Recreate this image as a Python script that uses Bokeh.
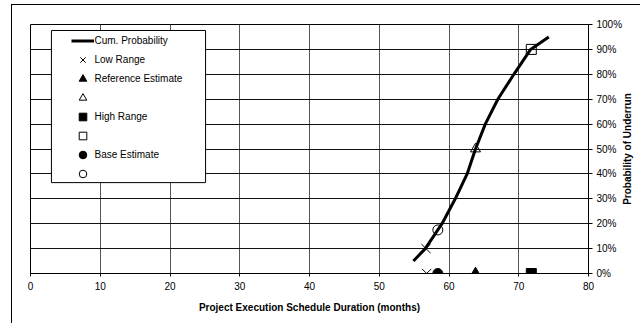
import math
from bokeh.plotting import figure
from bokeh.models import (Range1d, Legend, LegendItem, NumeralTickFormatter,
                          FixedTicker, BoxAnnotation, Label)
from bokeh.core.properties import value
from bokeh.embed import file_html
from bokeh.resources import INLINE

# ---- data ----
curve_x = [54.9, 56.6, 59.0, 60.9, 62.6, 63.8, 65.2, 67.0, 69.3, 71.7, 74.3]
curve_y = [0.05, 0.10, 0.20, 0.30, 0.40, 0.50, 0.60, 0.70, 0.80, 0.90, 0.95]

low_x = [56.8, 56.7]
low_y = [0.0, 0.10]

ref_x = [63.8]
ref_y = [0.0]
ref_open_x = [63.8]
ref_open_y = [0.50]

high_x = [71.8]
high_y = [0.0]
high_open_x = [71.8]
high_open_y = [0.90]

base_x = [58.4]
base_y = [0.0]
base_open_x = [58.4]
base_open_y = [0.175]

x_ticks = [0, 10, 20, 30, 40, 50, 60, 70, 80]
y_ticks = [0.0, 0.1, 0.2, 0.3, 0.4, 0.5, 0.6, 0.7, 0.8, 0.9, 1.0]

x_title = "Project Execution Schedule Duration (months)"
y_title = "Probability of Underrun"

FONT = "Liberation Sans"

p = figure(width=629, height=319, output_backend="svg", toolbar_location=None,
           x_range=Range1d(0, 80), y_range=Range1d(0, 1),
           y_axis_location="right",
           min_border_left=18, min_border_right=53,
           min_border_top=19, min_border_bottom=51)
p.styles = {"border-left": "1px solid #000000", "border-top": "1px solid #000000",
            "margin-top": "4px", "margin-left": "11px"}

p.background_fill_color = "white"
p.border_fill_color = "white"
p.outline_line_color = "black"
p.outline_line_width = 1

# grids
p.xgrid.ticker = FixedTicker(ticks=x_ticks)
p.ygrid.ticker = FixedTicker(ticks=y_ticks)
p.xgrid.grid_line_color = "#555555"
p.ygrid.grid_line_color = "#111111"

# x axis
xa = p.xaxis[0]
xa.ticker = FixedTicker(ticks=x_ticks)
xa.axis_label = x_title
xa.axis_label_text_font = FONT
xa.axis_label_text_font_style = "bold"
xa.axis_label_text_font_size = "10px"
xa.axis_label_text_color = "black"
xa.axis_label_standoff = 9
xa.major_label_text_font = FONT
xa.major_label_text_font_size = "10px"
xa.major_label_text_color = "black"
xa.major_label_standoff = 5
xa.major_tick_out = 3
xa.major_tick_in = 0
xa.minor_tick_line_color = None

# right y axis
ya = p.yaxis[0]
ya.ticker = FixedTicker(ticks=y_ticks)
ya.formatter = NumeralTickFormatter(format="0%")
ya.major_label_text_font = FONT
ya.major_label_text_font_size = "10px"
ya.major_label_text_color = "black"
ya.major_label_standoff = 4
ya.major_tick_out = 4
ya.major_tick_in = 0
ya.minor_tick_line_color = None

# right axis title, reading bottom-to-top, centred on the frame
p.add_layout(Label(x=80, y=0.5, x_offset=39, text=y_title, angle=math.pi / 2,
                   text_align="center", text_baseline="middle",
                   text_font=FONT, text_font_style="bold", text_font_size="10px",
                   text_color="black"), "right")

# legend background box
p.add_layout(BoxAnnotation(left=3.0, right=25.1, top=0.976, bottom=0.365,
                           fill_color="white", fill_alpha=1.0,
                           line_color="black", line_width=1, line_alpha=1.0))

# glyphs
r_curve = p.line(curve_x, curve_y, line_color="black", line_width=3)
r_low = p.scatter(low_x, low_y, marker="x", size=13, line_color="black", line_width=1)
r_ref = p.scatter(ref_x, ref_y, marker="triangle", size=11, fill_color="black", line_color="black")
r_ref_o = p.scatter(ref_open_x, ref_open_y, marker="triangle", size=10, fill_color=None,
                    line_color="black", line_width=1)
r_high = p.scatter(high_x, high_y, marker="square", size=10, fill_color="black", line_color="black")
r_high_o = p.scatter(high_open_x, high_open_y, marker="square", size=10, fill_color=None,
                     line_color="black", line_width=1)
r_base = p.scatter(base_x, base_y, marker="circle", size=10, fill_color="black", line_color="black")
r_base_o = p.scatter(base_open_x, base_open_y, marker="circle", size=10, fill_color=None,
                     line_color="black", line_width=1)

items = [
    LegendItem(label=value("Cum. Probability"), renderers=[r_curve]),
    LegendItem(label=value("Low Range"), renderers=[r_low]),
    LegendItem(label=value("Reference Estimate"), renderers=[r_ref]),
    LegendItem(label=value(" "), renderers=[r_ref_o]),
    LegendItem(label=value("High Range"), renderers=[r_high]),
    LegendItem(label=value(" "), renderers=[r_high_o]),
    LegendItem(label=value("Base Estimate"), renderers=[r_base]),
    LegendItem(label=value(" "), renderers=[r_base_o]),
]
legend = Legend(items=items, location=(38.5, 88.5),
                padding=2, spacing=0, glyph_height=19, glyph_width=23,
                label_standoff=1, label_text_font=FONT, label_text_font_size="10px",
                label_text_color="black", label_height=19,
                border_line_alpha=0, background_fill_alpha=0, margin=0)
p.add_layout(legend)

open("out.html", "w").write(file_html(p, INLINE))
